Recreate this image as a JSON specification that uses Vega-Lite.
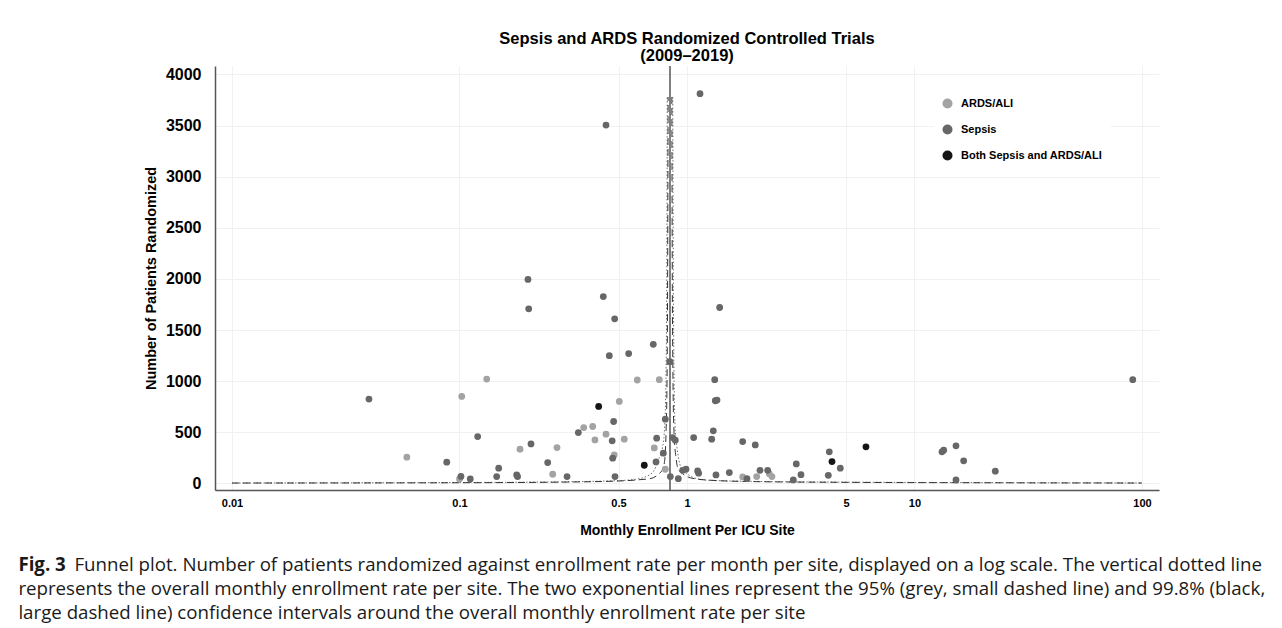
{
  "$schema": "https://vega.github.io/schema/vega-lite/v6.json",
  "background": "white",
  "padding": {"left": 18, "top": 30, "right": 0, "bottom": 0},
  "datasets": {
    "trials": [
      {"rate": 0.0587, "n": 257, "type": "ARDS/ALI"},
      {"rate": 0.1023, "n": 851, "type": "ARDS/ALI"},
      {"rate": 0.1317, "n": 1021, "type": "ARDS/ALI"},
      {"rate": 0.100, "n": 44, "type": "ARDS/ALI"},
      {"rate": 0.1845, "n": 335, "type": "ARDS/ALI"},
      {"rate": 0.2569, "n": 90, "type": "ARDS/ALI"},
      {"rate": 0.2683, "n": 351, "type": "ARDS/ALI"},
      {"rate": 0.3515, "n": 547, "type": "ARDS/ALI"},
      {"rate": 0.385, "n": 557, "type": "ARDS/ALI"},
      {"rate": 0.4406, "n": 482, "type": "ARDS/ALI"},
      {"rate": 0.394, "n": 426, "type": "ARDS/ALI"},
      {"rate": 0.530, "n": 433, "type": "ARDS/ALI"},
      {"rate": 0.479, "n": 279, "type": "ARDS/ALI"},
      {"rate": 0.504, "n": 802, "type": "ARDS/ALI"},
      {"rate": 0.6045, "n": 1012, "type": "ARDS/ALI"},
      {"rate": 0.7556, "n": 1015, "type": "ARDS/ALI"},
      {"rate": 0.718, "n": 348, "type": "ARDS/ALI"},
      {"rate": 0.803, "n": 139, "type": "ARDS/ALI"},
      {"rate": 1.757, "n": 64, "type": "ARDS/ALI"},
      {"rate": 2.025, "n": 67, "type": "ARDS/ALI"},
      {"rate": 2.30, "n": 96, "type": "ARDS/ALI"},
      {"rate": 2.363, "n": 67, "type": "ARDS/ALI"},
      {"rate": 0.040, "n": 825, "type": "Sepsis"},
      {"rate": 0.1202, "n": 459, "type": "Sepsis"},
      {"rate": 0.0879, "n": 208, "type": "Sepsis"},
      {"rate": 0.1015, "n": 69, "type": "Sepsis"},
      {"rate": 0.1115, "n": 44, "type": "Sepsis"},
      {"rate": 0.1457, "n": 67, "type": "Sepsis"},
      {"rate": 0.1487, "n": 149, "type": "Sepsis"},
      {"rate": 0.1784, "n": 83, "type": "Sepsis"},
      {"rate": 0.180, "n": 67, "type": "Sepsis"},
      {"rate": 0.2062, "n": 387, "type": "Sepsis"},
      {"rate": 0.2442, "n": 204, "type": "Sepsis"},
      {"rate": 0.297, "n": 67, "type": "Sepsis"},
      {"rate": 0.333, "n": 498, "type": "Sepsis"},
      {"rate": 0.200, "n": 1995, "type": "Sepsis"},
      {"rate": 0.2015, "n": 1708, "type": "Sepsis"},
      {"rate": 0.4406, "n": 3505, "type": "Sepsis"},
      {"rate": 0.4287, "n": 1828, "type": "Sepsis"},
      {"rate": 0.481, "n": 1610, "type": "Sepsis"},
      {"rate": 0.4556, "n": 1250, "type": "Sepsis"},
      {"rate": 0.5542, "n": 1270, "type": "Sepsis"},
      {"rate": 0.711, "n": 1361, "type": "Sepsis"},
      {"rate": 1.141, "n": 3812, "type": "Sepsis"},
      {"rate": 1.392, "n": 1721, "type": "Sepsis"},
      {"rate": 1.324, "n": 1015, "type": "Sepsis"},
      {"rate": 0.842, "n": 1191, "type": "Sepsis"},
      {"rate": 1.332, "n": 809, "type": "Sepsis"},
      {"rate": 1.355, "n": 816, "type": "Sepsis"},
      {"rate": 0.476, "n": 606, "type": "Sepsis"},
      {"rate": 0.469, "n": 417, "type": "Sepsis"},
      {"rate": 0.4715, "n": 247, "type": "Sepsis"},
      {"rate": 0.4826, "n": 67, "type": "Sepsis"},
      {"rate": 0.7358, "n": 443, "type": "Sepsis"},
      {"rate": 0.787, "n": 296, "type": "Sepsis"},
      {"rate": 0.731, "n": 211, "type": "Sepsis"},
      {"rate": 0.803, "n": 629, "type": "Sepsis"},
      {"rate": 0.865, "n": 449, "type": "Sepsis"},
      {"rate": 0.8884, "n": 423, "type": "Sepsis"},
      {"rate": 0.845, "n": 67, "type": "Sepsis"},
      {"rate": 0.916, "n": 47, "type": "Sepsis"},
      {"rate": 0.99, "n": 139, "type": "Sepsis"},
      {"rate": 0.957, "n": 129, "type": "Sepsis"},
      {"rate": 1.070, "n": 449, "type": "Sepsis"},
      {"rate": 1.114, "n": 123, "type": "Sepsis"},
      {"rate": 1.125, "n": 100, "type": "Sepsis"},
      {"rate": 1.284, "n": 433, "type": "Sepsis"},
      {"rate": 1.305, "n": 515, "type": "Sepsis"},
      {"rate": 1.341, "n": 83, "type": "Sepsis"},
      {"rate": 1.535, "n": 106, "type": "Sepsis"},
      {"rate": 1.757, "n": 410, "type": "Sepsis"},
      {"rate": 1.835, "n": 47, "type": "Sepsis"},
      {"rate": 1.996, "n": 377, "type": "Sepsis"},
      {"rate": 2.094, "n": 129, "type": "Sepsis"},
      {"rate": 2.263, "n": 129, "type": "Sepsis"},
      {"rate": 2.933, "n": 34, "type": "Sepsis"},
      {"rate": 3.023, "n": 191, "type": "Sepsis"},
      {"rate": 3.17, "n": 86, "type": "Sepsis"},
      {"rate": 4.222, "n": 309, "type": "Sepsis"},
      {"rate": 4.18, "n": 80, "type": "Sepsis"},
      {"rate": 4.72, "n": 149, "type": "Sepsis"},
      {"rate": 13.21, "n": 309, "type": "Sepsis"},
      {"rate": 13.44, "n": 325, "type": "Sepsis"},
      {"rate": 15.22, "n": 368, "type": "Sepsis"},
      {"rate": 16.45, "n": 221, "type": "Sepsis"},
      {"rate": 15.22, "n": 34, "type": "Sepsis"},
      {"rate": 22.66, "n": 120, "type": "Sepsis"},
      {"rate": 91.1, "n": 1015, "type": "Sepsis"},
      {"rate": 0.409, "n": 753, "type": "Both Sepsis and ARDS/ALI"},
      {"rate": 0.649, "n": 178, "type": "Both Sepsis and ARDS/ALI"},
      {"rate": 4.339, "n": 214, "type": "Both Sepsis and ARDS/ALI"},
      {"rate": 6.12, "n": 358, "type": "Both Sepsis and ARDS/ALI"}
    ],
    "funnel": [
      {"band": "99.8%", "side": "lower", "rate": 0.01, "n": 4},
      {"band": "99.8%", "side": "lower", "rate": 0.1, "n": 7},
      {"band": "99.8%", "side": "lower", "rate": 0.3, "n": 14},
      {"band": "99.8%", "side": "lower", "rate": 0.5, "n": 24},
      {"band": "99.8%", "side": "lower", "rate": 0.628, "n": 38},
      {"band": "99.8%", "side": "lower", "rate": 0.695, "n": 49},
      {"band": "99.8%", "side": "lower", "rate": 0.7455, "n": 86},
      {"band": "99.8%", "side": "lower", "rate": 0.784, "n": 145},
      {"band": "99.8%", "side": "lower", "rate": 0.800, "n": 250},
      {"band": "99.8%", "side": "lower", "rate": 0.809, "n": 500},
      {"band": "99.8%", "side": "lower", "rate": 0.817, "n": 1000},
      {"band": "99.8%", "side": "lower", "rate": 0.822, "n": 2000},
      {"band": "99.8%", "side": "lower", "rate": 0.826, "n": 3780},
      {"band": "99.8%", "side": "upper", "rate": 0.858, "n": 3780},
      {"band": "99.8%", "side": "upper", "rate": 0.862, "n": 2000},
      {"band": "99.8%", "side": "upper", "rate": 0.868, "n": 1000},
      {"band": "99.8%", "side": "upper", "rate": 0.877, "n": 500},
      {"band": "99.8%", "side": "upper", "rate": 0.895, "n": 250},
      {"band": "99.8%", "side": "upper", "rate": 0.913, "n": 145},
      {"band": "99.8%", "side": "upper", "rate": 0.970, "n": 86},
      {"band": "99.8%", "side": "upper", "rate": 1.063, "n": 49},
      {"band": "99.8%", "side": "upper", "rate": 1.3, "n": 30},
      {"band": "99.8%", "side": "upper", "rate": 2, "n": 18},
      {"band": "99.8%", "side": "upper", "rate": 5, "n": 11},
      {"band": "99.8%", "side": "upper", "rate": 20, "n": 7},
      {"band": "99.8%", "side": "upper", "rate": 100, "n": 4},
      {"band": "95%", "side": "lower", "rate": 0.01, "n": 5},
      {"band": "95%", "side": "lower", "rate": 0.1, "n": 9},
      {"band": "95%", "side": "lower", "rate": 0.3, "n": 17},
      {"band": "95%", "side": "lower", "rate": 0.513, "n": 29},
      {"band": "95%", "side": "lower", "rate": 0.585, "n": 39},
      {"band": "95%", "side": "lower", "rate": 0.660, "n": 67},
      {"band": "95%", "side": "lower", "rate": 0.716, "n": 125},
      {"band": "95%", "side": "lower", "rate": 0.7455, "n": 222},
      {"band": "95%", "side": "lower", "rate": 0.780, "n": 350},
      {"band": "95%", "side": "lower", "rate": 0.795, "n": 500},
      {"band": "95%", "side": "lower", "rate": 0.808, "n": 1000},
      {"band": "95%", "side": "lower", "rate": 0.815, "n": 2000},
      {"band": "95%", "side": "lower", "rate": 0.819, "n": 3780},
      {"band": "95%", "side": "upper", "rate": 0.866, "n": 3780},
      {"band": "95%", "side": "upper", "rate": 0.871, "n": 2000},
      {"band": "95%", "side": "upper", "rate": 0.878, "n": 1000},
      {"band": "95%", "side": "upper", "rate": 0.889, "n": 500},
      {"band": "95%", "side": "upper", "rate": 0.904, "n": 350},
      {"band": "95%", "side": "upper", "rate": 0.941, "n": 157},
      {"band": "95%", "side": "upper", "rate": 1.010, "n": 88},
      {"band": "95%", "side": "upper", "rate": 1.152, "n": 39},
      {"band": "95%", "side": "upper", "rate": 1.314, "n": 29},
      {"band": "95%", "side": "upper", "rate": 2, "n": 20},
      {"band": "95%", "side": "upper", "rate": 5, "n": 13},
      {"band": "95%", "side": "upper", "rate": 20, "n": 8},
      {"band": "95%", "side": "upper", "rate": 100, "n": 5}
    ],
    "overall": [{"rate": 0.842}]
  },
  "title": {
    "text": "Fig. 3",
    "subtitle": [
      "\u200b\u2003\u2003\u2003Funnel plot. Number of patients randomized against enrollment rate per month per site, displayed on a log scale. The vertical dotted line",
      "represents the overall monthly enrollment rate per site. The two exponential lines represent the 95% (grey, small dashed line) and 99.8% (black,",
      "large dashed line) confidence intervals around the overall monthly enrollment rate per site"
    ],
    "orient": "bottom",
    "anchor": "start",
    "frame": "bounds",
    "dx": -125,
    "offset": 19,
    "font": "Open Sans",
    "fontSize": 18.7,
    "fontWeight": "bold",
    "color": "#1a1a1a",
    "subtitleFont": "Open Sans",
    "subtitleFontSize": 18.7,
    "subtitleFontWeight": "normal",
    "subtitleColor": "#1a1a1a",
    "subtitleLineHeight": 24,
    "subtitlePadding": -18.7
  },
  "vconcat": [
    {
      "width": 944,
      "height": 424,
      "title": {
        "text": ["Sepsis and ARDS Randomized Controlled Trials", "(2009\u20132019)"],
        "anchor": "middle",
        "font": "Liberation Sans",
        "fontSize": 16.5,
        "fontWeight": "bold",
        "lineHeight": 17,
        "color": "#000000",
        "offset": 1
      },
      "layer": [
        {
          "data": {"name": "funnel"},
          "transform": [{"filter": "datum.band === '95%'"}],
          "mark": {"type": "line", "interpolate": "monotone", "strokeWidth": 1, "strokeDash": [1.5, 2], "color": "#707070"},
          "encoding": {
            "x": {"field": "rate", "type": "quantitative"},
            "y": {"field": "n", "type": "quantitative"},
            "detail": {"field": "side"}
          }
        },
        {
          "data": {"name": "funnel"},
          "transform": [{"filter": "datum.band === '99.8%'"}],
          "mark": {"type": "line", "interpolate": "monotone", "strokeWidth": 1, "strokeDash": [7, 4], "color": "#333333"},
          "encoding": {
            "x": {"field": "rate", "type": "quantitative"},
            "y": {"field": "n", "type": "quantitative"},
            "detail": {"field": "side"}
          }
        },
        {
          "data": {"name": "overall"},
          "mark": {"type": "rule", "color": "#555555", "strokeWidth": 1.5},
          "encoding": {
            "x": {"field": "rate", "type": "quantitative"}
          }
        },
        {
          "data": {"name": "trials"},
          "mark": {"type": "point", "filled": true, "opacity": 1, "size": 46},
          "encoding": {
            "x": {
              "field": "rate",
              "type": "quantitative",
              "scale": {"type": "log", "domain": [0.00842, 118.8], "nice": false},
              "axis": {
                "title": "Monthly Enrollment Per ICU Site",
                "values": [0.01, 0.1, 0.5, 1, 5, 10, 100],
                "format": "~g",
                "labelFontSize": 11,
                "labelPadding": 7,
                "titleFontSize": 14,
                "titlePadding": 15
              }
            },
            "y": {
              "field": "n",
              "type": "quantitative",
              "scale": {"domain": [-64, 4083], "nice": false, "zero": false},
              "axis": {
                "title": "Number of Patients Randomized",
                "values": [0, 500, 1000, 1500, 2000, 2500, 3000, 3500, 4000],
                "format": "d",
                "labelFontSize": 16,
                "labelPadding": 14,
                "titleFontSize": 14.5,
                "titlePadding": 7
              }
            },
            "color": {
              "field": "type",
              "type": "nominal",
              "scale": {
                "domain": ["ARDS/ALI", "Sepsis", "Both Sepsis and ARDS/ALI"],
                "range": ["#a3a3a3", "#676767", "#151515"]
              },
              "legend": {
                "title": null,
                "orient": "none",
                "legendX": 719,
                "legendY": 24,
                "symbolType": "circle",
                "symbolSize": 100,
                "symbolStrokeWidth": 0,
                "labelFont": "Liberation Sans",
                "labelFontSize": 11,
                "labelFontWeight": "bold",
                "labelColor": "#000000",
                "labelOffset": 8,
                "rowPadding": 14,
                "padding": 8,
                "fillColor": "white"
              }
            }
          }
        }
      ]
    }
  ],
  "config": {
    "view": {"stroke": null},
    "font": "Liberation Sans",
    "axis": {
      "ticks": false,
      "domain": true,
      "domainColor": "#555555",
      "domainWidth": 1.5,
      "grid": true,
      "gridColor": "#f1f1f1",
      "gridWidth": 1,
      "labelFont": "Liberation Sans",
      "labelFontWeight": "bold",
      "labelColor": "#000000",
      "titleFont": "Liberation Sans",
      "titleFontWeight": "bold",
      "titleColor": "#000000"
    }
  }
}
